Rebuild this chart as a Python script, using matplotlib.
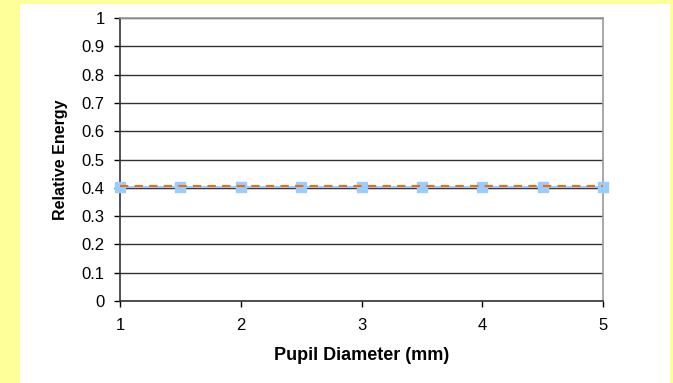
import numpy as np
import matplotlib.pyplot as plt
from matplotlib.patches import Rectangle

plt.rcParams['font.family'] = ['Liberation Sans', 'DejaVu Sans']

# data
pupil = [1, 1.5, 2, 2.5, 3, 3.5, 4, 4.5, 5]
energy_a = [0.400, 0.400, 0.400, 0.400, 0.400, 0.400, 0.400, 0.400, 0.400]
energy_b = [0.404, 0.404, 0.404, 0.404, 0.404, 0.404, 0.404, 0.404, 0.404]
energy_c = [0.407, 0.407, 0.407, 0.407, 0.407, 0.407, 0.407, 0.407, 0.407]

W, H = 673, 383
fig = plt.figure(figsize=(W / 100, H / 100), dpi=100)
fig.patch.set_facecolor('#FFFF99')
# white chart area
fig.add_artist(Rectangle((20 / W, 0), 650 / W, (H - 4) / H, transform=fig.transFigure,
                         facecolor='white', edgecolor='none', zorder=-5))

ax = fig.add_axes([120 / W, (H - 301) / H, (603 - 120) / W, (301 - 18) / H])
ax.set_zorder(2)
ax.set_facecolor('white')

ax.plot(pupil, energy_a, color='#333333', lw=1.5, zorder=3)
ax.plot(pupil, energy_b, color='#99CCFF', lw=1.5, marker='s', markersize=7.5,
        markeredgecolor='#99CCFF', zorder=4, clip_on=False)
ax.plot(pupil, energy_c, color='#FF6600', lw=1.5, ls=(0, (4, 3)), zorder=5)

ax.set_xlim(1, 5)
ax.set_ylim(0, 1)
ax.set_xticks([1, 2, 3, 4, 5])
ax.set_yticks(np.arange(0, 1.01, 0.1))
ax.set_yticklabels(['0', '0.1', '0.2', '0.3', '0.4', '0.5', '0.6', '0.7', '0.8', '0.9', '1'])
ax.yaxis.grid(True, color='#333333', lw=1)
ax.set_axisbelow(True)

for s in ['left', 'bottom']:
    ax.spines[s].set_color('#333333')
    ax.spines[s].set_linewidth(1.2)
for s in ['top', 'right']:
    ax.spines[s].set_color('#999999')
    ax.spines[s].set_linewidth(1.2)

ax.tick_params(axis='both', labelsize=12, colors='black', length=4, width=1)
ax.tick_params(axis='x', pad=8)
ax.tick_params(axis='y', pad=7)

ax.set_xlabel('Pupil Diameter (mm)', fontsize=13, fontweight='bold')
ax.set_ylabel('Relative Energy', fontsize=11.5, fontweight='bold')
ax.xaxis.set_label_coords(0.5, -(355 - 301) / 283, transform=ax.transAxes)
ax.xaxis.label.set_va('center')
ax.yaxis.set_label_coords(-(120 - 61) / 483, 0.5, transform=ax.transAxes)
ax.yaxis.label.set_va('center')

fig.savefig('out.png', dpi=100)
